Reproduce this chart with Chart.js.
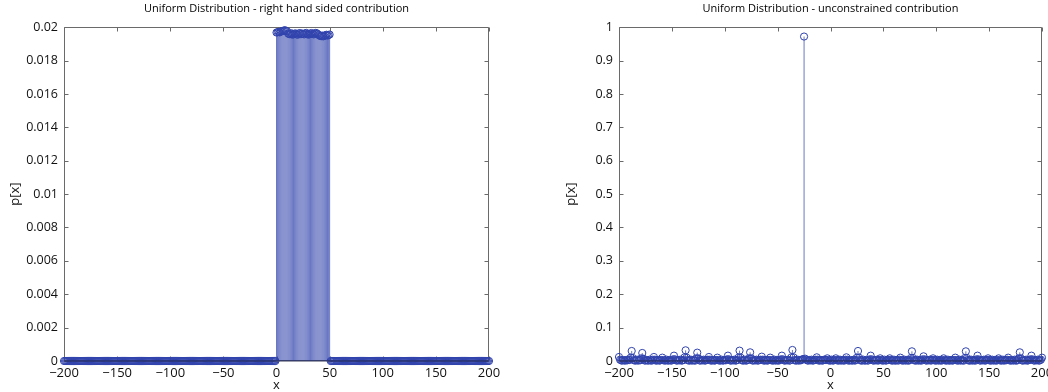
<!DOCTYPE html>
<html>
<head>
<meta charset="utf-8">
<script src="https://cdn.jsdelivr.net/npm/chart.js@4.4.0/dist/chart.umd.min.js"></script>
<style>
  html, body { margin: 0; padding: 0; background: #fff; overflow: hidden; }
  #wrap { position: relative; width: 1048px; height: 392px; }
  .pane { position: absolute; top: 0; width: 524px; height: 392px; }
  #p1 { left: 0; }
  #p2 { left: 524px; }
</style>
</head>
<body>
<div id="wrap">
  <div class="pane" id="p1"><canvas id="c1" width="524" height="392"></canvas></div>
  <div class="pane" id="p2"><canvas id="c2" width="524" height="392"></canvas></div>
</div>
<script>
// Sample positions run from x = -200 to x = 200 in steps of 1.
const xStart = -200;

const xTickLabels = ['\u2212200', '\u2212150', '\u2212100', '\u221250', '0', '50', '100', '150', '200'];
const leftYTickLabels = ['0', '0.002', '0.004', '0.006', '0.008', '0.01', '0.012', '0.014', '0.016', '0.018', '0.02'];
const rightYTickLabels = ['0', '0.1', '0.2', '0.3', '0.4', '0.5', '0.6', '0.7', '0.8', '0.9', '1'];

const leftTitle = 'Uniform Distribution - right hand sided contribution';
const rightTitle = 'Uniform Distribution - unconstrained contribution';

// Right hand sided contribution: x = -200 .. -1
const leftValuesNeg = [
  0,0,0,0,0,0,0,0,0,0,0,0,0,0,0,0,0,0,0,0,0,0,0,0,0,
  0,0,0,0,0,0,0,0,0,0,0,0,0,0,0,0,0,0,0,0,0,0,0,0,0,
  0,0,0,0,0,0,0,0,0,0,0,0,0,0,0,0,0,0,0,0,0,0,0,0,0,
  0,0,0,0,0,0,0,0,0,0,0,0,0,0,0,0,0,0,0,0,0,0,0,0,0,
  0,0,0,0,0,0,0,0,0,0,0,0,0,0,0,0,0,0,0,0,0,0,0,0,0,
  0,0,0,0,0,0,0,0,0,0,0,0,0,0,0,0,0,0,0,0,0,0,0,0,0,
  0,0,0,0,0,0,0,0,0,0,0,0,0,0,0,0,0,0,0,0,0,0,0,0,0,
  0,0,0,0,0,0,0,0,0,0,0,0,0,0,0,0,0,0,0,0,0,0,0,0,0
];
// x = 0 .. 50
const leftValuesBlock = [
  0.01968, 0.01970, 0.01972, 0.01969, 0.01974, 0.01976, 0.01978, 0.01980, 0.01982, 0.01978,
  0.01975, 0.01962, 0.01958, 0.01960, 0.01964, 0.01955, 0.01958, 0.01961, 0.01963, 0.01957,
  0.01955, 0.01962, 0.01965, 0.01958, 0.01962, 0.01960, 0.01957, 0.01963, 0.01966, 0.01960,
  0.01955, 0.01958, 0.01962, 0.01965, 0.01960, 0.01957, 0.01962, 0.01966, 0.01963, 0.01958,
  0.01952, 0.01948, 0.01946, 0.01950, 0.01945, 0.01948, 0.01952, 0.01955, 0.01950, 0.01953,
  0.01956
];
// x = 51 .. 200
const leftValuesPos = [
  0,0,0,0,0,0,0,0,0,0,0,0,0,0,0,0,0,0,0,0,0,0,0,0,0,
  0,0,0,0,0,0,0,0,0,0,0,0,0,0,0,0,0,0,0,0,0,0,0,0,0,
  0,0,0,0,0,0,0,0,0,0,0,0,0,0,0,0,0,0,0,0,0,0,0,0,0,
  0,0,0,0,0,0,0,0,0,0,0,0,0,0,0,0,0,0,0,0,0,0,0,0,0,
  0,0,0,0,0,0,0,0,0,0,0,0,0,0,0,0,0,0,0,0,0,0,0,0,0,
  0,0,0,0,0,0,0,0,0,0,0,0,0,0,0,0,0,0,0,0,0,0,0,0,0
];

// Unconstrained contribution: x = -200 .. 200, twenty values per row
const rightValues = [
  0.012,0.004,0.002,0.001,0.003,0.002,0.001,0.003,0.002,0.004,0.003,0.010,0.030,0.009,0.003,0.001,0.002,0.004,0.001,0.003,
  0.002,0.008,0.024,0.007,0.002,0.001,0.003,0.002,0.001,0.004,0.002,0.001,0.004,0.012,0.004,0.001,0.002,0.003,0.001,0.002,
  0.003,0.010,0.003,0.001,0.002,0.004,0.001,0.002,0.003,0.001,0.002,0.005,0.016,0.005,0.002,0.001,0.003,0.002,0.004,0.001,
  0.002,0.003,0.011,0.032,0.010,0.003,0.001,0.002,0.004,0.001,0.003,0.002,0.001,0.008,0.025,0.008,0.002,0.001,0.003,0.002,
  0.004,0.001,0.002,0.003,0.004,0.012,0.004,0.001,0.002,0.003,0.001,0.002,0.003,0.010,0.003,0.001,0.002,0.004,0.001,0.002,
  0.003,0.002,0.005,0.016,0.005,0.002,0.001,0.003,0.002,0.004,0.001,0.002,0.003,0.010,0.031,0.010,0.003,0.001,0.002,0.004,
  0.001,0.002,0.003,0.008,0.026,0.008,0.002,0.001,0.003,0.002,0.004,0.001,0.002,0.003,0.004,0.013,0.004,0.001,0.002,0.003,
  0.001,0.002,0.003,0.010,0.003,0.001,0.002,0.004,0.001,0.003,0.002,0.001,0.003,0.005,0.016,0.005,0.002,0.001,0.003,0.002,
  0.004,0.001,0.002,0.011,0.033,0.011,0.003,0.001,0.002,0.004,0.001,0.003,0.002,0.004,0.006,0.972,0.007,0.004,0.002,0.001,
  0.003,0.002,0.004,0.001,0.002,0.003,0.004,0.011,0.004,0.001,0.002,0.003,0.001,0.002,0.004,0.003,0.003,0.008,0.003,0.001,
  0.002,0.004,0.001,0.002,0.003,0.008,0.003,0.001,0.002,0.004,0.001,0.003,0.002,0.001,0.004,0.011,0.004,0.001,0.002,0.003,
  0.001,0.002,0.004,0.001,0.003,0.010,0.030,0.010,0.003,0.001,0.002,0.004,0.001,0.002,0.003,0.001,0.002,0.005,0.016,0.005,
  0.002,0.001,0.003,0.002,0.004,0.001,0.003,0.008,0.003,0.001,0.002,0.004,0.001,0.002,0.003,0.003,0.008,0.003,0.001,0.002,
  0.004,0.001,0.002,0.003,0.001,0.004,0.010,0.003,0.001,0.002,0.004,0.001,0.003,0.002,0.001,0.003,0.009,0.029,0.009,0.003,
  0.001,0.002,0.004,0.001,0.003,0.002,0.001,0.005,0.014,0.005,0.002,0.001,0.003,0.002,0.004,0.001,0.003,0.008,0.003,0.001,
  0.002,0.004,0.001,0.003,0.002,0.001,0.003,0.008,0.003,0.001,0.002,0.004,0.001,0.002,0.003,0.001,0.002,0.003,0.010,0.003,
  0.001,0.002,0.004,0.001,0.003,0.002,0.001,0.009,0.029,0.009,0.003,0.001,0.002,0.004,0.001,0.003,0.002,0.001,0.005,0.016,
  0.005,0.002,0.001,0.003,0.002,0.004,0.001,0.002,0.003,0.008,0.003,0.001,0.002,0.004,0.001,0.003,0.002,0.001,0.003,0.008,
  0.003,0.001,0.002,0.004,0.001,0.003,0.002,0.004,0.010,0.003,0.001,0.002,0.003,0.001,0.004,0.002,0.001,0.003,0.008,0.026,
  0.008,0.002,0.001,0.003,0.002,0.004,0.001,0.002,0.003,0.005,0.016,0.005,0.002,0.001,0.003,0.002,0.004,0.001,0.002,0.004,
  0.010
];

const leftValues = leftValuesNeg.concat(leftValuesBlock, leftValuesPos);

const FONT = '"Open Sans", "Noto Sans", sans-serif';
const markerColor = 'rgb(48, 66, 172)';
const stemColor = 'rgba(48, 66, 172, 0.72)';
const baseColor = 'rgba(36, 40, 70, 0.9)';
const axisColor = '#6a6a6a';
const textColor = '#111';

const toNumber = s => parseFloat(s.replace('\u2212', '-'));

// Box around the axes with tick marks pointing inwards on all four sides.
const boxTicks = {
  id: 'boxTicks',
  beforeDatasetsDraw(chart) {
    const { ctx, chartArea: a, scales: { x, y } } = chart;
    const len = 4;
    const l = Math.round(a.left) + 0.5, r = Math.round(a.right) - 0.5;
    const t = Math.round(a.top) + 0.5, b = Math.round(a.bottom) - 0.5;
    ctx.save();
    ctx.strokeStyle = axisColor;
    ctx.lineWidth = 1;
    ctx.beginPath();
    ctx.rect(l, t, r - l, b - t);
    x.ticks.forEach(tk => {
      const px = Math.round(x.getPixelForValue(tk.value)) + 0.5;
      ctx.moveTo(px, b); ctx.lineTo(px, b - len);
      ctx.moveTo(px, t); ctx.lineTo(px, t + len);
    });
    y.ticks.forEach(tk => {
      const py = Math.round(y.getPixelForValue(tk.value)) + 0.5;
      ctx.moveTo(l, py); ctx.lineTo(l + len, py);
      ctx.moveTo(r, py); ctx.lineTo(r - len, py);
    });
    ctx.stroke();
    ctx.restore();
  }
};

function stemChart(canvasId, values, yLabels, title, yAxisWidth, padRight, yTitlePad) {
  const points = values.map((v, i) => ({ x: xStart + i, y: v }));
  const stems = [];
  points.forEach(p => { stems.push({ x: p.x, y: 0 }, { x: p.x, y: p.y }, { x: p.x, y: null }); });
  const xFirst = xStart, xLast = xStart + values.length - 1;
  const yMin = toNumber(yLabels[0]), yMax = toNumber(yLabels[yLabels.length - 1]);

  return new Chart(document.getElementById(canvasId), {
    type: 'scatter',
    data: {
      datasets: [
        { // baseline
          data: [{ x: xFirst, y: 0 }, { x: xLast, y: 0 }],
          showLine: true, pointRadius: 0, borderColor: baseColor, borderWidth: 1,
          clip: false, order: 0
        },
        { // markers
          data: points,
          showLine: false, pointStyle: 'circle', pointRadius: 3.6,
          pointBorderWidth: 1, pointBorderColor: markerColor,
          pointBackgroundColor: 'rgba(0,0,0,0)', clip: false, order: 1
        },
        { // stems
          data: stems,
          showLine: true, spanGaps: false, pointRadius: 0,
          borderColor: stemColor, borderWidth: 1, clip: false, order: 2
        }
      ]
    },
    options: {
      responsive: false,
      animation: false,
      events: [],
      layout: { padding: { left: 0, right: padRight, top: 0, bottom: 0 } },
      plugins: {
        legend: { display: false },
        tooltip: { enabled: false },
        title: {
          display: true, text: title, color: '#000', fullSize: false,
          font: { family: FONT, size: 11, weight: 'normal' },
          padding: { top: 2, bottom: 12 }
        }
      },
      scales: {
        x: {
          type: 'linear', min: -200, max: 200,
          afterBuildTicks: s => { s.ticks = xTickLabels.map(l => ({ value: toNumber(l) })); },
          afterFit: s => { s.height = 31; s.paddingLeft = 0; s.paddingRight = 0; },
          grid: { display: false, drawTicks: false },
          border: { display: false },
          ticks: {
            callback: (v, i) => xTickLabels[i], autoSkip: false, maxRotation: 0,
            padding: 4, color: textColor, font: { family: FONT, size: 13 }
          },
          title: {
            display: true, text: 'x', color: textColor,
            font: { family: FONT, size: 13 }, padding: { top: 0, bottom: -1 }
          }
        },
        y: {
          type: 'linear', min: yMin, max: yMax,
          afterBuildTicks: s => { s.ticks = yLabels.map(l => ({ value: toNumber(l) })); },
          afterFit: s => { s.width = yAxisWidth; s.paddingTop = 0; s.paddingBottom = 0; },
          grid: { display: false, drawTicks: false },
          border: { display: false },
          ticks: {
            callback: (v, i) => yLabels[i], padding: 6,
            color: textColor, font: { family: FONT, size: 12.5 }
          },
          title: {
            display: true, text: 'p[x]', color: textColor,
            font: { family: FONT, size: 13 }, padding: { top: yTitlePad, bottom: 0 }
          }
        }
      }
    },
    plugins: [boxTicks]
  });
}

stemChart('c1', leftValues, leftYTickLabels, leftTitle, 64, 35, 7);
stemChart('c2', rightValues, rightYTickLabels, rightTitle, 95, 6, 39);
</script>
</body>
</html>
